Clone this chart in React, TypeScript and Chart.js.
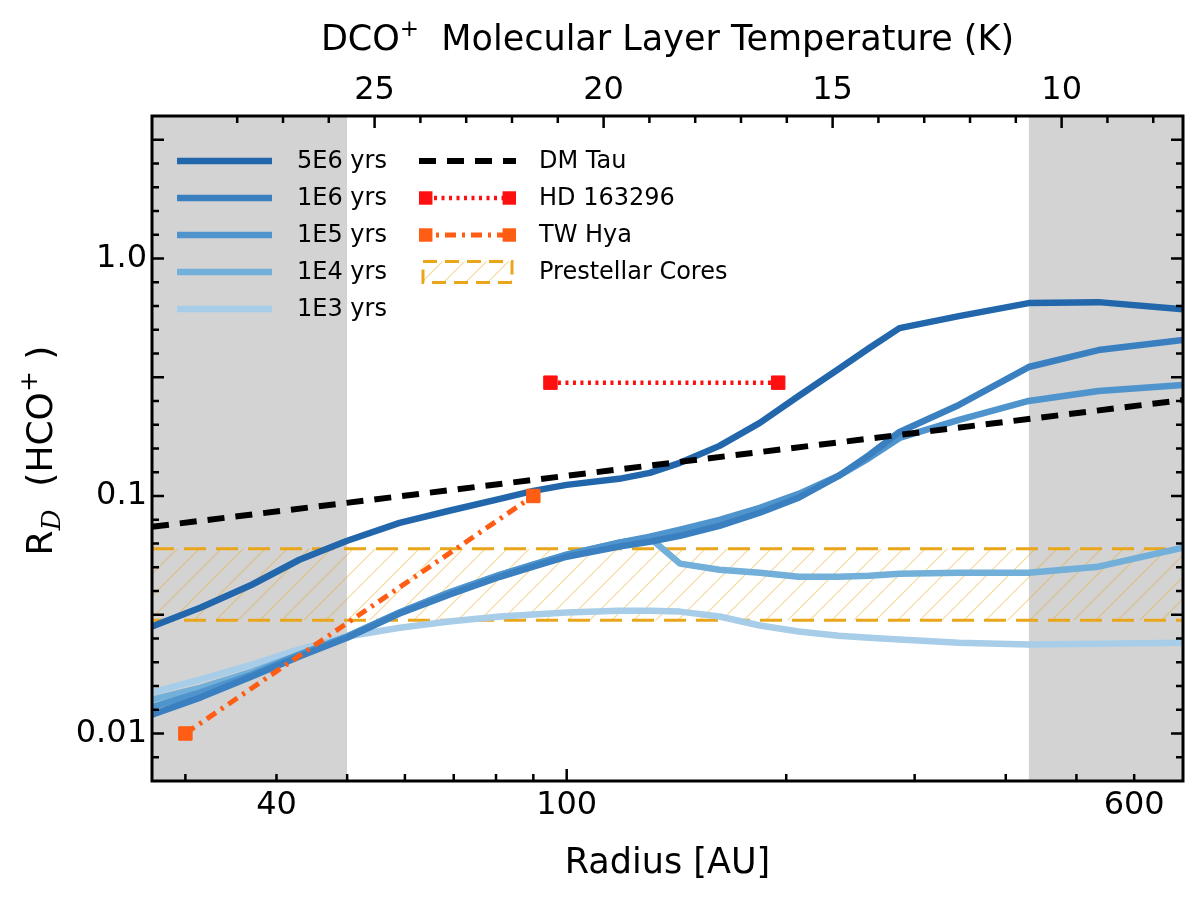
import { useEffect, useRef } from "react";
import Chart from "chart.js/auto";

// model grid (AU) and R_D(HCO+) for each chemical age
const radiusAU = [27, 31.5, 37, 43, 50, 59, 69, 81, 90, 100, 118, 130, 143, 162, 184, 208, 236, 260, 286, 345, 430, 536, 700];
const rd5e6 = [0.0282, 0.0339, 0.0423, 0.0539, 0.0648, 0.0771, 0.0867, 0.0973, 0.1051, 0.1114, 0.1181, 0.1252, 0.1379, 0.1626, 0.2031, 0.2637, 0.3425, 0.4197, 0.5093, 0.5721, 0.6488, 0.6551, 0.612];
const rd1e6 = [0.012, 0.0142, 0.0174, 0.0211, 0.0253, 0.032, 0.0384, 0.0457, 0.0504, 0.0555, 0.0612, 0.0642, 0.068, 0.0749, 0.085, 0.0983, 0.1216, 0.149, 0.1861, 0.2417, 0.3492, 0.4117, 0.4535];
const rd1e5 = [0.0129, 0.0149, 0.0177, 0.0215, 0.0256, 0.0323, 0.0392, 0.0466, 0.0514, 0.0566, 0.0636, 0.0674, 0.0721, 0.0794, 0.0892, 0.1021, 0.1216, 0.1447, 0.1756, 0.2091, 0.2513, 0.2768, 0.2934];
const rd1e4 = [0.0139, 0.0156, 0.0182, 0.0215, 0.0256, 0.0323, 0.0392, 0.0466, 0.0514, 0.0566, 0.0636, 0.0667, 0.0519, 0.0489, 0.0475, 0.0457, 0.0457, 0.0462, 0.0471, 0.0475, 0.0475, 0.0504, 0.0606];
const rd1e3 = [0.0149, 0.0169, 0.0195, 0.0226, 0.0256, 0.0279, 0.0296, 0.0311, 0.0317, 0.0323, 0.0329, 0.0329, 0.0326, 0.0311, 0.0285, 0.0269, 0.0258, 0.0253, 0.0249, 0.0241, 0.0237, 0.0239, 0.0241];

const modelLabels = ["5E6 yrs", "1E6 yrs", "1E5 yrs", "1E4 yrs", "1E3 yrs"];
const modelColors = ["#2266ab", "#3a80c0", "#4f94cc", "#72afd9", "#a8cde8"];

// observations
const dmTauRadius = [27, 700];
const dmTauRd = [0.0742, 0.2536];
const hdRadius = [95, 195];
const hdRd = [0.3, 0.3];
const twHyaRadius = [30, 90];
const twHyaRd = [0.01, 0.1];
const prestellarRd = [0.03, 0.06];

// shaded (unresolved) regions
const greyInner = [27, 50];
const greyOuter = [430, 700];

// axes
const radiusRange = [27, 700];
const rdRange = [0.00631, 3.981];
const tempRange = [7.35, 29.86];
const radiusTicks = [30, 40, 50, 60, 70, 80, 90, 100, 200, 300, 400, 500, 600];
const radiusMajor = [100];
const radiusLabelValues = [40, 100, 600];
const radiusLabels = ["40", "100", "600"];
const tempTicks = [28, 27, 26, 25, 24, 23, 22, 21, 20, 19, 18, 17, 16, 15, 14, 13, 12, 11, 10, 9, 8];
const tempLabelValues = [25, 20, 15, 10];
const tempLabels = ["25", "20", "15", "10"];
const rdLabelValues = [0.01, 0.1, 1];
const rdLabels = ["0.01", "0.1", "1.0"];
const rdTickExp = [-21, -20, -19, -18, -17, -16, -15, -14, -13, -12, -11, -10, -9, -8, -7, -6, -5, -4, -3, -2, -1, 0, 1, 2, 3, 4, 5];

const SANS = "'DejaVu Sans', sans-serif";
const GOLD = "#e9a61a";
const HD_RED = "#ff1010";
const TW_ORANGE = "#ff5c14";

function makeHatch(): CanvasPattern | string {
  const c = document.createElement("canvas");
  c.width = 22;
  c.height = 22;
  const g = c.getContext("2d");
  if (!g) return "rgba(233,166,26,0.15)";
  g.strokeStyle = "rgba(233,166,26,0.45)";
  g.lineWidth = 1.1;
  g.beginPath();
  g.moveTo(0, 22); g.lineTo(22, 0);
  g.moveTo(-2, 2); g.lineTo(2, -2);
  g.moveTo(20, 24); g.lineTo(24, 20);
  g.stroke();
  return g.createPattern(c, "repeat") ?? "rgba(233,166,26,0.15)";
}

type Part = { t: string; font: string; dy: number };

function drawParts(ctx: CanvasRenderingContext2D, parts: Part[], cx: number, base: number) {
  let total = 0;
  const w = parts.map(p => { ctx.font = p.font; const m = ctx.measureText(p.t).width; total += m; return m; });
  let x = cx - total / 2;
  ctx.textBaseline = "alphabetic";
  ctx.textAlign = "left";
  parts.forEach((p, i) => { ctx.font = p.font; ctx.fillText(p.t, x, base + p.dy); x += w[i]; });
}

const legendRows = [161, 198, 235, 272, 309];
const legendCol1 = { x0: 177, x1: 272, text: 297 };
const legendCol2 = { x0: 419, x1: 516, text: 539 };
const legendRight = ["DM Tau", "HD 163296", "TW Hya", "Prestellar Cores"];

export default function App() {
  const canvasRef = useRef<HTMLCanvasElement>(null);

  useEffect(() => {
    if (!canvasRef.current) return;
    const hatch = makeHatch();
    const pts = (xs: number[], ys: number[]) => xs.map((x, i) => ({ x, y: ys[i] }));
    const models = [rd5e6, rd1e6, rd1e5, rd1e4, rd1e3];

    const datasets: any[] = [
      { label: "grey inner", data: pts(greyInner, [rdRange[1], rdRange[1]]), fill: "start", backgroundColor: "#d3d3d3", borderWidth: 0, pointRadius: 0, order: 100 },
      { label: "grey outer", data: pts(greyOuter, [rdRange[1], rdRange[1]]), fill: "start", backgroundColor: "#d3d3d3", borderWidth: 0, pointRadius: 0, order: 99 },
      { label: "prestellar low", data: pts(radiusRange, [prestellarRd[0], prestellarRd[0]]), borderColor: GOLD, borderWidth: 3, borderDash: [22, 10], pointRadius: 0, fill: false, order: 90 },
      { label: "Prestellar Cores", data: pts(radiusRange, [prestellarRd[1], prestellarRd[1]]), borderColor: GOLD, borderWidth: 3, borderDash: [22, 10], pointRadius: 0, fill: 2, backgroundColor: hatch, order: 89 },
      ...models.map((m, i) => ({
        label: modelLabels[i], data: pts(radiusAU, m), borderColor: modelColors[i], borderWidth: 6.5,
        pointRadius: 0, fill: false, order: 50 + i, borderJoinStyle: "round",
      })),
      { label: "DM Tau", data: pts(dmTauRadius, dmTauRd), borderColor: "#000", borderWidth: 6, borderDash: [17, 11], pointRadius: 0, fill: false, order: 10 },
      { label: "TW Hya", data: pts(twHyaRadius, twHyaRd), borderColor: TW_ORANGE, borderWidth: 5, borderDash: [11, 6, 3, 6], pointStyle: "rect", pointRadius: 9.5, pointBackgroundColor: TW_ORANGE, pointBorderColor: TW_ORANGE, pointBorderWidth: 1, fill: false, order: 5 },
      { label: "HD 163296", data: pts(hdRadius, hdRd), borderColor: HD_RED, borderWidth: 4.5, borderDash: [3, 4.5], pointStyle: "rect", pointRadius: 9.5, pointBackgroundColor: HD_RED, pointBorderColor: HD_RED, pointBorderWidth: 1, fill: false, order: 4 },
    ];

    const decor = {
      id: "decor",
      beforeDraw(chart: any) {
        const ctx = chart.ctx;
        ctx.save();
        ctx.fillStyle = "#fff";
        ctx.fillRect(0, 0, chart.width, chart.height);
        ctx.restore();
      },
      afterDraw(chart: any) {
        const ctx: CanvasRenderingContext2D = chart.ctx;
        const { left, right, top, bottom } = chart.chartArea;
        const xs = chart.scales.x, xt = chart.scales.x2, ys = chart.scales.y;
        ctx.save();

        // inward ticks
        ctx.strokeStyle = "#000";
        ctx.lineWidth = 2.5;
        ctx.setLineDash([]);
        ctx.beginPath();
        radiusTicks.forEach(v => {
          const px = xs.getPixelForValue(v);
          const len = radiusMajor.includes(v) ? 12 : 7;
          ctx.moveTo(px, bottom); ctx.lineTo(px, bottom - len);
        });
        tempTicks.forEach(v => {
          const px = xt.getPixelForValue(v);
          const len = tempLabelValues.includes(v) ? 12 : 7;
          ctx.moveTo(px, top); ctx.lineTo(px, top + len);
        });
        rdTickExp.forEach(e => {
          const py = ys.getPixelForValue(Math.pow(10, e / 10));
          const len = e % 5 === 0 ? 12 : 7;
          ctx.moveTo(left, py); ctx.lineTo(left + len, py);
          ctx.moveTo(right, py); ctx.lineTo(right - len, py);
        });
        ctx.stroke();

        // frame
        ctx.lineWidth = 3;
        ctx.strokeRect(left, top, right - left, bottom - top);

        // axis titles
        ctx.fillStyle = "#000";
        const big = `35px ${SANS}`;
        const sup = `23px ${SANS}`;
        const cx = (left + right) / 2;
        drawParts(ctx, [{ t: "Radius [AU]", font: big, dy: 0 }], cx, 873);
        drawParts(ctx, [
          { t: "DCO", font: big, dy: 0 },
          { t: "+", font: sup, dy: -14 },
          { t: "  Molecular Layer Temperature (K)", font: big, dy: 0 },
        ], cx, 50);
        ctx.save();
        ctx.translate(52, (top + bottom) / 2 + 2);
        ctx.rotate(-Math.PI / 2);
        drawParts(ctx, [
          { t: "R", font: `36px ${SANS}`, dy: 0 },
          { t: "D", font: `italic 26px 'DejaVu Serif', serif`, dy: 8 },
          { t: "  (HCO", font: `36px ${SANS}`, dy: 0 },
          { t: "+", font: `25px ${SANS}`, dy: -15 },
          { t: " )", font: `36px ${SANS}`, dy: 0 },
        ], 0, 0);
        ctx.restore();

        // legend
        const dsBy = (lab: string) => chart.data.datasets.find((d: any) => d.label === lab);
        ctx.font = `24px ${SANS}`;
        ctx.textBaseline = "middle";
        ctx.textAlign = "left";
        modelLabels.forEach((lab, i) => {
          const d = dsBy(lab);
          const y = legendRows[i];
          ctx.setLineDash([]);
          ctx.strokeStyle = d.borderColor;
          ctx.lineWidth = d.borderWidth;
          ctx.beginPath(); ctx.moveTo(legendCol1.x0, y); ctx.lineTo(legendCol1.x1, y); ctx.stroke();
          ctx.fillStyle = "#000";
          ctx.fillText(lab, legendCol1.text, y + 1);
        });
        legendRight.forEach((lab, i) => {
          const d = dsBy(lab);
          const y = legendRows[i];
          ctx.setLineDash(d.borderDash || []);
          ctx.strokeStyle = d.borderColor;
          ctx.lineWidth = d.borderWidth;
          if (lab === "Prestellar Cores") {
            const x0 = legendCol2.x0 + 4, x1 = legendCol2.x1 - 4;
            ctx.fillStyle = d.backgroundColor;
            ctx.fillRect(x0, y - 10.5, x1 - x0, 21);
            ctx.setLineDash([14, 8]);
            ctx.strokeRect(x0, y - 10.5, x1 - x0, 21);
          } else {
            ctx.beginPath(); ctx.moveTo(legendCol2.x0, y); ctx.lineTo(legendCol2.x1, y); ctx.stroke();
            if (d.pointRadius > 0) {
              const s = d.pointRadius * Math.SQRT1_2;
              ctx.fillStyle = d.pointBackgroundColor;
              ctx.fillRect(legendCol2.x0, y - s, 2 * s, 2 * s);
              ctx.fillRect(legendCol2.x1 - 2 * s, y - s, 2 * s, 2 * s);
            }
          }
          ctx.setLineDash([]);
          ctx.fillStyle = "#000";
          ctx.fillText(lab, legendCol2.text, y + 1);
        });
        ctx.restore();
      },
    };

    const tickFont = { family: SANS, size: 32 };
    const chart = new Chart(canvasRef.current, {
      type: "line",
      data: { datasets },
      plugins: [decor],
      options: {
        animation: false,
        responsive: false,
        devicePixelRatio: 1,
        events: [],
        layout: { padding: { left: 0, right: 17, top: 0, bottom: 0 } },
        plugins: { legend: { display: false }, tooltip: { enabled: false }, title: { display: false } },
        elements: { line: { tension: 0, borderCapStyle: "butt" } },
        scales: {
          x: {
            type: "logarithmic", position: "bottom", min: radiusRange[0], max: radiusRange[1], bounds: "data",
            grid: { display: false, drawTicks: false }, border: { display: false },
            afterBuildTicks: (s: any) => { s.ticks = radiusTicks.map(v => ({ value: v })); },
            afterFit: (s: any) => { s.height = 119; },
            ticks: {
              autoSkip: false, maxRotation: 0, padding: 5, color: "#000", font: tickFont,
              callback: (v: any) => { const k = radiusLabelValues.indexOf(Number(v)); return k >= 0 ? radiusLabels[k] : ""; },
            },
          },
          x2: {
            type: "linear", position: "top", min: tempRange[0], max: tempRange[1], reverse: true, bounds: "data",
            grid: { display: false, drawTicks: false }, border: { display: false },
            afterBuildTicks: (s: any) => { s.ticks = tempTicks.map(v => ({ value: v })); },
            afterFit: (s: any) => { s.height = 116; },
            ticks: {
              autoSkip: false, maxRotation: 0, padding: 6, color: "#000", font: tickFont,
              callback: (v: any) => { const k = tempLabelValues.indexOf(Number(v)); return k >= 0 ? tempLabels[k] : ""; },
            },
          },
          y: {
            type: "logarithmic", position: "left", min: rdRange[0], max: rdRange[1], bounds: "data",
            grid: { display: false, drawTicks: false }, border: { display: false },
            afterBuildTicks: (s: any) => { s.ticks = rdTickExp.map(e => ({ value: Math.pow(10, e / 10) })); },
            afterFit: (s: any) => { s.width = 152; },
            ticks: {
              autoSkip: false, padding: 5, color: "#000", font: tickFont,
              callback: (v: any) => {
                const k = rdLabelValues.findIndex(r => Math.abs(Math.log10(Number(v)) - Math.log10(r)) < 1e-6);
                return k >= 0 ? rdLabels[k] : "";
              },
            },
          },
        },
      } as any,
    });

    return () => { chart.destroy(); };
  }, []);

  return (
    <div style={{ position: "fixed", left: 0, top: 0, width: 1200, height: 900, background: "#fff" }}>
      <canvas ref={canvasRef} width={1200} height={900} style={{ display: "block", width: 1200, height: 900 }} />
    </div>
  );
}
